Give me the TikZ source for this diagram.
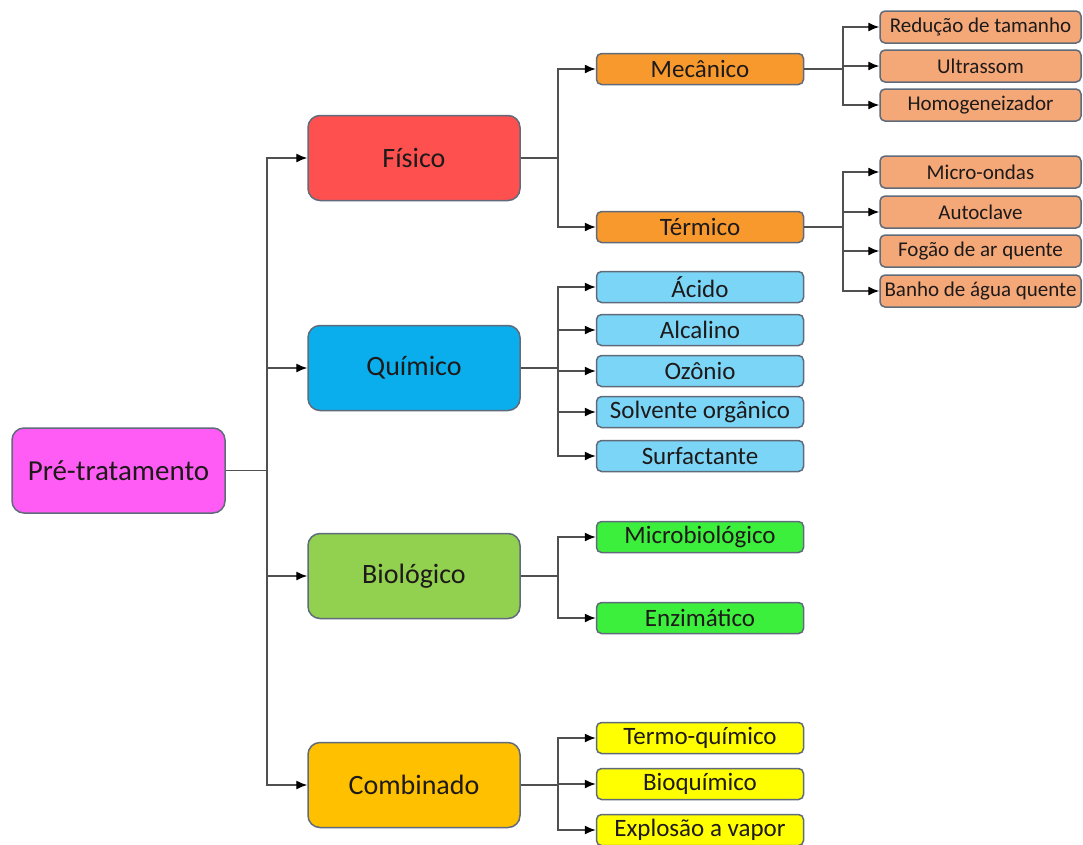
\documentclass[tikz,border=0pt]{standalone}
\usepackage{fontspec}
\setmainfont{Carlito}
\usetikzlibrary{arrows.meta}

\definecolor{rootfill}{HTML}{FF5CF5}
\definecolor{fisfill}{HTML}{FF5050}
\definecolor{quifill}{HTML}{0AAEEC}
\definecolor{biofill}{HTML}{92D050}
\definecolor{comfill}{HTML}{FFC000}
\definecolor{orgfill}{HTML}{F8992E}
\definecolor{salfill}{HTML}{F4A878}
\definecolor{bluefill}{HTML}{7BD5F7}
\definecolor{grnfill}{HTML}{3DEF3D}
\definecolor{yelfill}{HTML}{FFFF00}
\definecolor{boxline}{HTML}{5F6B7A}
\definecolor{wire}{HTML}{505050}
\definecolor{ink}{HTML}{1E1A1A}

\tikzset{
  base/.style={draw=boxline, line width=1.5pt, text=ink, inner sep=0pt, align=center},
  bigbox/.style={base, rounded corners=12pt, minimum width=212pt, minimum height=85pt, font=\fontsize{28}{30}\selectfont},
  midbox/.style={base, rounded corners=5pt, minimum width=207pt, minimum height=31pt, font=\fontsize{25}{27}\selectfont},
  leafbox/.style={base, rounded corners=5pt, minimum width=201pt, minimum height=32pt, font=\fontsize{21}{23}\selectfont},
  wireline/.style={draw=wire, line width=1.3pt},
  arr/.style={wireline, -{Latex[length=11pt,width=9pt,black]}},
}

\begin{document}
\begin{tikzpicture}[x=1pt,y=-1pt]
\clip (0,0) rectangle (1083,844);
\fill[white] (0,0) rectangle (1083,844);

% root and first level
\node[bigbox, fill=rootfill, minimum width=213pt, font=\fontsize{29}{31}\selectfont] (root) at (118.5,470.5) {Pré-tratamento};
\node[bigbox, fill=fisfill] (fis) at (414,158) {Físico};
\node[bigbox, fill=quifill] (qui) at (414,368) {Químico};
\node[bigbox, fill=biofill] (bio) at (414,576) {Biológico};
\node[bigbox, fill=comfill] (com) at (414,785) {Combinado};

% second level
\node[midbox, fill=orgfill] (mec) at (700,69) {Mecânico};
\node[midbox, fill=orgfill] (ter) at (700,227) {Térmico};
\node[midbox, fill=bluefill] (aci) at (700,287) {Ácido};
\node[midbox, fill=bluefill] (alc) at (700,330) {Alcalino};
\node[midbox, fill=bluefill] (ozo) at (700,371) {Ozônio};
\node[midbox, fill=bluefill] (sol) at (700,412) {Solvente orgânico};
\node[midbox, fill=bluefill] (sur) at (700,456) {Surfactante};
\node[midbox, fill=grnfill] (mic) at (700,537) {Microbiológico};
\node[midbox, fill=grnfill] (enz) at (700,618) {Enzimático};
\node[midbox, fill=yelfill] (tq) at (700,738) {Termo-químico};
\node[midbox, fill=yelfill] (bq) at (700,784) {Bioquímico};
\node[midbox, fill=yelfill] (exp) at (700,830) {Explosão a vapor};

% third level
\node[leafbox, fill=salfill] (red) at (980.5,27) {Redução de tamanho};
\node[leafbox, fill=salfill] (ult) at (980.5,66) {Ultrassom};
\node[leafbox, fill=salfill] (hom) at (980.5,105) {Homogeneizador};
\node[leafbox, fill=salfill] (mo) at (980.5,172) {Micro-ondas};
\node[leafbox, fill=salfill] (aut) at (980.5,212) {Autoclave};
\node[leafbox, fill=salfill] (fog) at (980.5,251) {Fogão de ar quente};
\node[leafbox, fill=salfill] (ban) at (980.5,291) {Banho de água quente};

% branching points
\coordinate (j0) at (267,470.5);
\coordinate (j1) at (558,158);
\coordinate (j2) at (558,368);
\coordinate (j3) at (558,576);
\coordinate (j4) at (558,785);
\coordinate (j5) at (843,69);
\coordinate (j6) at (843,227);

% connectors
\draw[wireline] (root.east) -- (j0);
\foreach \t in {fis,qui,bio,com} \draw[arr] (j0) |- (\t.west);

\draw[wireline] (fis.east) -- (j1);
\foreach \t in {mec,ter} \draw[arr] (j1) |- (\t.west);

\draw[wireline] (qui.east) -- (j2);
\foreach \t in {aci,alc,ozo,sol,sur} \draw[arr] (j2) |- (\t.west);

\draw[wireline] (bio.east) -- (j3);
\foreach \t in {mic,enz} \draw[arr] (j3) |- (\t.west);

\draw[wireline] (com.east) -- (j4);
\foreach \t in {tq,bq,exp} \draw[arr] (j4) |- (\t.west);

\draw[wireline] (mec.east) -- (j5);
\foreach \t in {red,ult,hom} \draw[arr] (j5) |- (\t.west);

\draw[wireline] (ter.east) -- (j6);
\foreach \t in {mo,aut,fog,ban} \draw[arr] (j6) |- (\t.west);
\end{tikzpicture}
\end{document}
